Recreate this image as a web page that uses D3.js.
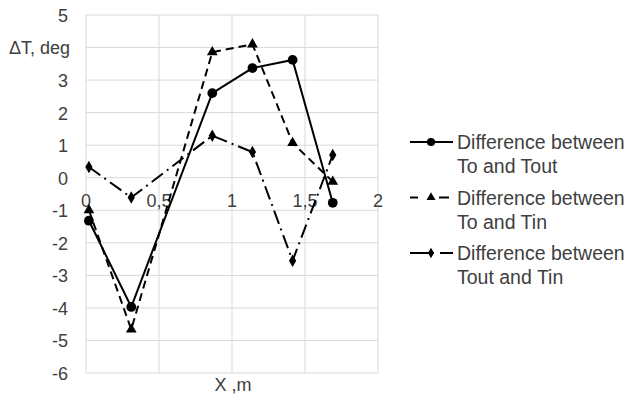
<!DOCTYPE html>
<html>
<head>
<meta charset="utf-8">
<script src="https://cdn.jsdelivr.net/npm/d3@7"></script>
<style>
  body { margin: 0; background: #fff; }
  text { font-family: "Liberation Sans", Arial, sans-serif; }
</style>
</head>
<body>
<svg width="628" height="401"></svg>
<script>
var xPos = [0.02, 0.31, 0.865, 1.14, 1.415, 1.69];
var toTout = [-1.32, -3.97, 2.6, 3.37, 3.62, -0.77];
var toTin = [-1.0, -4.66, 3.86, 4.1, 1.07, -0.12];
var toutTin = [0.33, -0.61, 1.29, 0.79, -2.55, 0.7];
var xTicks = [0, 0.5, 1, 1.5, 2];
var yTicks = [5, 4, 3, 2, 1, 0, -1, -2, -3, -4, -5, -6];
// the "4" label sits under the axis title in the original
var yLabels = [5, 3, 2, 1, 0, -1, -2, -3, -4, -5, -6];
var seriesNames = [
  ['Difference between', 'To and Tout'],
  ['Difference between', 'To and Tin'],
  ['Difference between', 'Tout and Tin']
];

var svg = d3.select('svg');
var x = d3.scaleLinear().domain([0, 2]).range([86, 378]);
var y = d3.scaleLinear().domain([-6, 5]).range([373, 15]);
var fmt = function (d) { return String(d).replace('.', ','); };

// grid
svg.append('g')
  .selectAll('line')
  .data(yTicks)
  .enter()
  .append('line')
  .attr('x1', x(0)).attr('x2', x(2))
  .attr('y1', function (d) { return y(d); })
  .attr('y2', function (d) { return y(d); })
  .style('stroke', '#d9d9d9')
  .style('stroke-width', '1px');

svg.append('g')
  .selectAll('line')
  .data(xTicks)
  .enter()
  .append('line')
  .attr('y1', y(5)).attr('y2', y(-6))
  .attr('x1', function (d) { return x(d); })
  .attr('x2', function (d) { return x(d); })
  .style('stroke', '#d9d9d9')
  .style('stroke-width', '1px');

// tick labels
svg.append('g')
  .selectAll('text')
  .data(yLabels)
  .enter()
  .append('text')
  .attr('x', 68)
  .attr('y', function (d) { return y(d) + 7; })
  .attr('text-anchor', 'end')
  .style('font-size', '18px')
  .style('fill', '#404040')
  .text(function (d) { return d; });

svg.append('g')
  .selectAll('text')
  .data(xTicks)
  .enter()
  .append('text')
  .attr('x', function (d) { return x(d); })
  .attr('y', y(0) + 29)
  .attr('text-anchor', 'middle')
  .style('font-size', '18px')
  .style('fill', '#404040')
  .text(fmt);

svg.append('text')
  .attr('x', 9).attr('y', 54)
  .style('font-size', '18px')
  .style('fill', '#404040')
  .text('\u0394T, deg');

svg.append('text')
  .attr('x', 233).attr('y', 391)
  .attr('text-anchor', 'middle')
  .style('font-size', '18px')
  .style('fill', '#404040')
  .text('X ,m');

var series = [
  { values: toTout, dash: null, shape: d3.symbolCircle, size: 75, lg: null },
  { values: toTin, dash: '8,5', shape: d3.symbolTriangle, size: 50, lg: '8,6,0,0,0,15,10' },
  { values: toutTin, dash: '14,5,2,5', shape: d3.symbolDiamond, size: 45, lg: '24,6,13' }
];

var line = d3.line()
  .x(function (d, i) { return x(xPos[i]); })
  .y(function (d) { return y(d); });

series.forEach(function (s) {
  svg.append('path')
    .datum(s.values)
    .attr('d', line)
    .style('fill', 'none')
    .style('stroke', '#000')
    .style('stroke-width', '2px')
    .style('stroke-dasharray', s.dash);

  svg.append('g')
    .selectAll('path')
    .data(s.values)
    .enter()
    .append('path')
    .attr('transform', function (d, i) {
      return 'translate(' + x(xPos[i]) + ',' + y(d) + ')';
    })
    .attr('d', d3.symbol().type(s.shape).size(s.size))
    .style('fill', '#000');
});

// legend
var legend = svg.append('g')
  .selectAll('g')
  .data(series)
  .enter()
  .append('g')
  .attr('transform', function (d, i) {
    return 'translate(0,' + (142 + i * 55.5) + ')';
  });

legend.append('line')
  .attr('x1', 410).attr('x2', 453)
  .attr('y1', 0).attr('y2', 0)
  .style('stroke', '#000')
  .style('stroke-width', '2px')
  .style('stroke-dasharray', function (d) { return d.lg; });

legend.append('path')
  .attr('transform', 'translate(431,0)')
  .attr('d', function (d) { return d3.symbol().type(d.shape).size(d.size * 0.7)(); })
  .style('fill', '#000');

legend.append('text')
  .attr('x', 457).attr('y', 7)
  .style('font-size', '19.5px')
  .style('fill', '#404040')
  .text(function (d, i) { return seriesNames[i][0]; });

legend.append('text')
  .attr('x', 457).attr('y', 31)
  .style('font-size', '19.5px')
  .style('fill', '#404040')
  .text(function (d, i) { return seriesNames[i][1]; });
</script>
</body>
</html>
